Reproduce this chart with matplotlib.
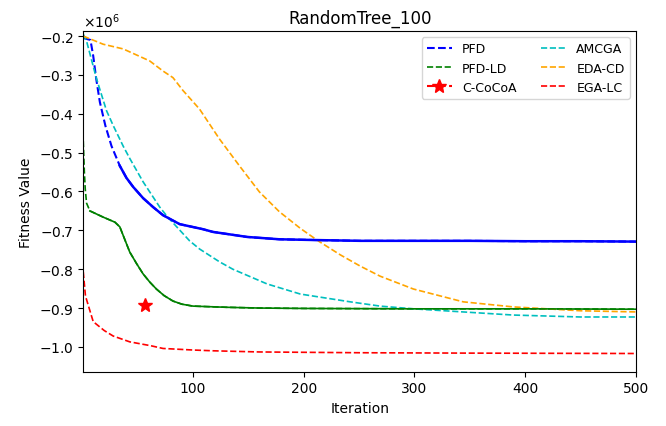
import matplotlib
matplotlib.use('Agg')
import matplotlib.pyplot as plt
import numpy as np

# values (fitness in units of 1e6)
pfd_x = [1, 7.5, 10, 12.7, 16, 21, 26.5, 34, 40, 46, 55, 64, 73, 88, 109, 118, 149, 178, 211, 251, 300, 350, 400, 450, 500]
pfd_y = [-0.205, -0.21, -0.251, -0.31, -0.37, -0.431, -0.483, -0.534, -0.565, -0.588, -0.617, -0.64, -0.661, -0.684, -0.697, -0.704, -0.717, -0.723, -0.725, -0.727, -0.727, -0.727, -0.728, -0.728, -0.729]

pfdld_x = [1, 2, 2.8, 4, 7, 19, 29.6, 34, 38, 43, 49, 55, 61, 67, 74, 82, 90, 100, 130, 160, 200, 300, 400, 500]
pfdld_y = [-0.47, -0.55, -0.594, -0.63, -0.65, -0.666, -0.679, -0.691, -0.72, -0.756, -0.785, -0.812, -0.833, -0.851, -0.868, -0.882, -0.89, -0.895, -0.898, -0.9, -0.901, -0.902, -0.902, -0.903]

amcga_x = [1, 4, 13, 22, 28, 37, 43, 55, 70, 77, 97, 106, 124, 136, 167, 197, 242, 269, 299, 344, 389, 450, 500]
amcga_y = [-0.195, -0.213, -0.31, -0.392, -0.43, -0.483, -0.515, -0.575, -0.64, -0.665, -0.727, -0.748, -0.781, -0.8, -0.838, -0.864, -0.884, -0.895, -0.902, -0.91, -0.918, -0.923, -0.923]

edacd_x = [1, 19, 37, 61, 73, 82, 91, 106, 124, 142, 160, 178, 197, 213, 233, 251, 269, 299, 344, 389, 450, 500]
edacd_y = [-0.2, -0.221, -0.233, -0.264, -0.29, -0.307, -0.34, -0.388, -0.465, -0.534, -0.601, -0.652, -0.695, -0.727, -0.763, -0.792, -0.818, -0.851, -0.884, -0.897, -0.907, -0.91]

egalc_x = [1, 3, 10, 20, 28, 43, 62, 73, 100, 118, 160, 250, 350, 500]
egalc_y = [-0.807, -0.869, -0.935, -0.958, -0.972, -0.987, -0.997, -1.004, -1.008, -1.01, -1.013, -1.015, -1.016, -1.017]

cocoa_x = [57]
cocoa_y = [-0.891]

scale = 1e6
plt.figure(figsize=(6.66, 4.27), dpi=100)
ax = plt.gca()

def arr(v):
    return np.array(v) * scale

plt.plot(pfd_x, arr(pfd_y), 'b--', lw=1.5, label='PFD')
plt.plot(pfdld_x, arr(pfdld_y), 'g--', lw=1.2, label='PFD-LD')
plt.plot(cocoa_x, arr(cocoa_y), 'r*--', markersize=10, label='C-CoCoA')
plt.plot(amcga_x, arr(amcga_y), 'c--', lw=1.2, label='AMCGA')
plt.plot(edacd_x, arr(edacd_y), '--', color='orange', lw=1.2, label='EDA-CD')
plt.plot(egalc_x, arr(egalc_y), 'r--', lw=1.2, label='EGA-LC')

# later parts of PFD / PFD-LD look solid in the original
plt.plot(pfd_x[7:], arr(pfd_y[7:]), 'b-', lw=1.8)
plt.plot(pfdld_x[4:], arr(pfdld_y[4:]), 'g-', lw=1.2)

plt.xlim(1, 500)
plt.ylim(-1.064e6, -0.187e6)
plt.xticks([100, 200, 300, 400, 500])
plt.yticks(np.arange(-1.0, -0.15, 0.1) * scale)
ax.ticklabel_format(axis='y', style='sci', scilimits=(0, 0), useMathText=True)

plt.title('RandomTree_100')
plt.xlabel('Iteration')
plt.ylabel('Fitness Value')
plt.legend(loc='upper right', ncol=2, fontsize=9)

plt.subplots_adjust(left=0.125, right=0.955, top=0.925, bottom=0.127)
plt.savefig('out.png', dpi=100)
